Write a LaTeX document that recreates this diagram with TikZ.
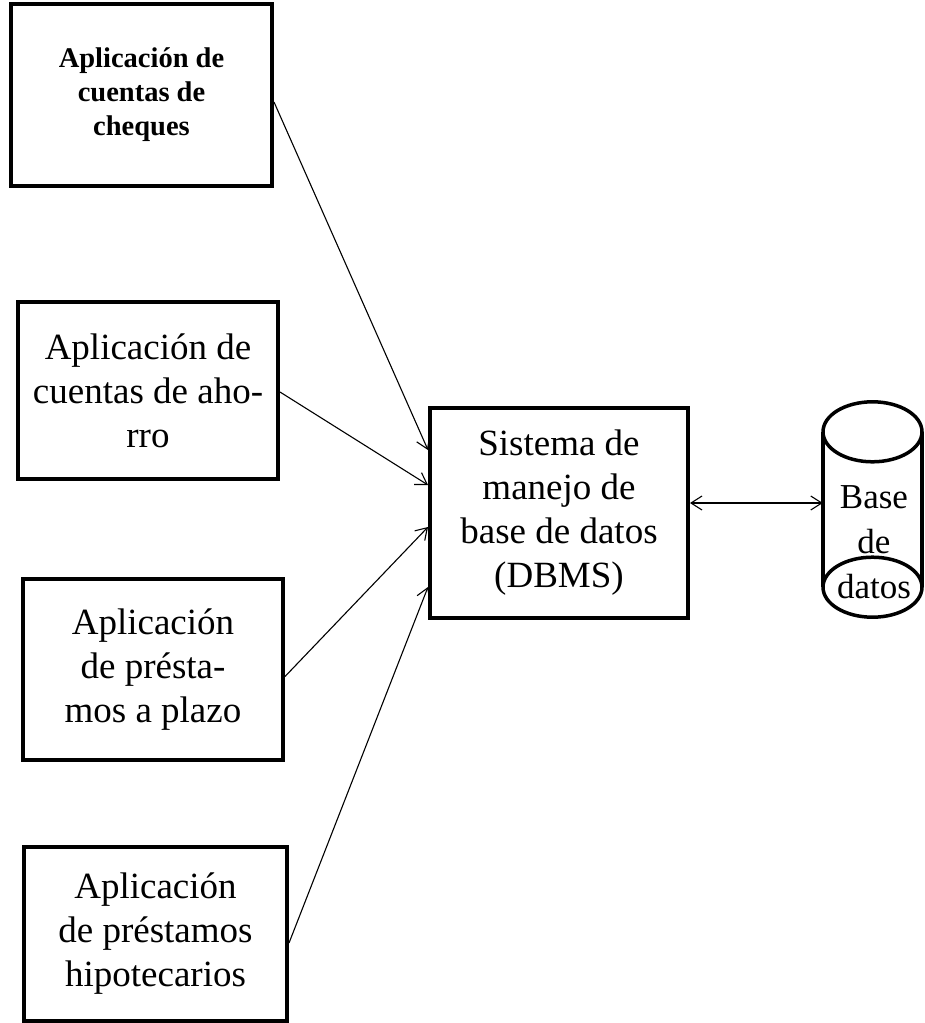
\documentclass[tikz,border=0pt]{standalone}
\usepackage{fontspec}
\setmainfont{Liberation Serif}
\usetikzlibrary{arrows.meta}

\begin{document}
\begin{tikzpicture}[x=1pt, y=-1pt,
  caja/.style={draw, line width=4pt, align=center, inner sep=0pt,
    font=\fontsize{37}{44}\selectfont},
  cajanegrita/.style={caja, font=\bfseries\fontsize{28.5}{34}\selectfont},
  flecha/.style={line width=1.1pt, -{Straight Barb[length=11pt, width=14pt]}},
  doble/.style={line width=1.1pt, {Straight Barb[length=11pt, width=14pt]}-{Straight Barb[length=11pt, width=14pt]}},
  borde/.style={line width=3.5pt}]
\useasboundingbox (0, 0) rectangle (925, 1023);

\node[cajanegrita, minimum width=261pt, minimum height=182pt] (cheques) at (141.5, 95) {Aplicación de\\cuentas de\\cheques};
\node[caja, minimum width=260pt, minimum height=177pt] (ahorro) at (148, 390.5) {Aplicación de\\cuentas de aho-\\rro};
\node[caja, minimum width=260pt, minimum height=181pt] (plazo) at (153, 669.5) {Aplicación\\de présta-\\mos a plazo};
\node[caja, minimum width=263pt, minimum height=174pt] (hipotecarios) at (155.5, 934) {Aplicación\\de préstamos\\hipotecarios};

\node[caja, minimum width=258pt, minimum height=210pt] (dbms) at (559, 513) {Sistema de\\manejo de\\base de datos\\(DBMS)};

% cilindro de la base de datos
\node[minimum width=99pt, minimum height=155pt, inner sep=0pt] (bd) at (872.5, 509.5) {};
\draw[borde] (bd.north west) -- (bd.south west) (bd.north east) -- (bd.south east);
\draw[borde] (bd.north) ellipse [x radius=49.5, y radius=30];
\draw[borde] (bd.south) ellipse [x radius=49.5, y radius=30];
\node[align=center, inner sep=0pt, font=\fontsize{35}{45}\selectfont] (bdtexto) at (874, 542) {Base\\de\\datos};

\draw[flecha] ([yshift=-7pt]cheques.east) -- ([yshift=63pt]dbms.west);
\draw[flecha] ([yshift=-1.5pt]ahorro.east) -- ([yshift=28pt]dbms.west);
\draw[flecha] ([yshift=-7pt]plazo.east) -- ([yshift=-14pt]dbms.west);
\draw[flecha] ([yshift=-9pt]hipotecarios.east) -- ([yshift=-74pt]dbms.west);

\draw[doble] ([yshift=10pt]dbms.east) -- ([yshift=6.5pt]bd.west);

\end{tikzpicture}
\end{document}
